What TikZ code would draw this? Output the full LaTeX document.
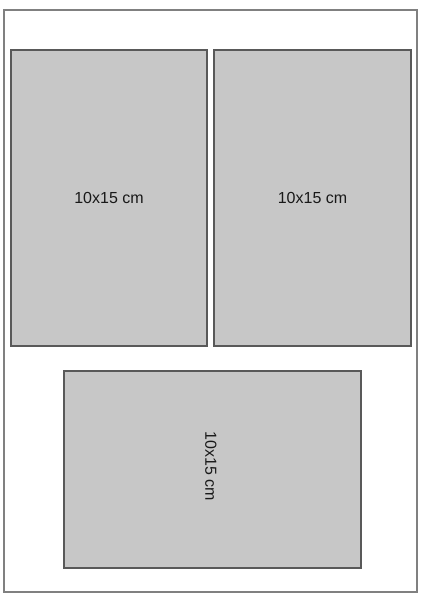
\documentclass[tikz,border=0pt]{standalone}
\usepackage{fontspec}
\setmainfont{Liberation Sans}
\begin{document}
\begin{tikzpicture}[x=1pt,y=-1pt,
  photo/.style={draw=black!65,line width=1.4pt,fill=black!22},
  lbl/.style={font=\fontsize{16}{18}\selectfont,text=black!90},
  frame/.style={draw=black!50,line width=1.3pt}]
\useasboundingbox (0,0) rectangle (423,596);
\fill[white] (0,0) rectangle (423,596);
\draw[frame] (4,10) rectangle (417,592);
\draw[photo] (11,50) rectangle (207,346);
\draw[photo] (214,50) rectangle (411,346);
\draw[photo] (64,371) rectangle (361,568);
\node[lbl] (a) at (109,198) {10x15 cm};
\node[lbl] (b) at (312.5,198) {10x15 cm};
\node[lbl,rotate=-90] (c) at (211,466) {10x15 cm};
\end{tikzpicture}
\end{document}
